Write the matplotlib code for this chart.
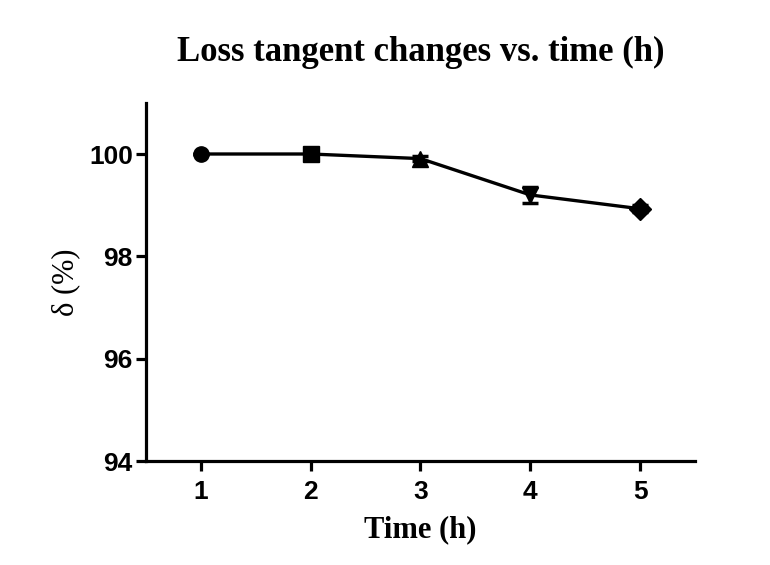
import matplotlib
matplotlib.use("Agg")
import matplotlib.pyplot as plt

time_h = [1, 2, 3, 4, 5]
delta_pct = [100.0, 100.0, 99.91, 99.20, 98.93]
delta_err = [0.0, 0.0, 0.05, 0.15, 0.07]
markers = ["o", "s", "^", "v", "D"]
yticks = [94, 96, 98, 100]
xticks = [1, 2, 3, 4, 5]

fig = plt.figure(figsize=(7.7, 5.65), dpi=100)
ax = fig.add_axes([0.1896, 0.184, 0.713, 0.634])

ax.plot(time_h, delta_pct, color="black", lw=2.4, zorder=2)
for x, y, e, m in zip(time_h, delta_pct, delta_err, markers):
    ax.errorbar([x], [y], yerr=[e], fmt=m, color="black", ms=11,
                capsize=6, capthick=2.5, elinewidth=2.5, zorder=3)

ax.set_xlim(0.5, 5.5)
ax.set_ylim(94, 101)
ax.set_xticks(xticks)
ax.set_yticks(yticks)
for s in ["top", "right"]:
    ax.spines[s].set_visible(False)
for s in ["left", "bottom"]:
    ax.spines[s].set_linewidth(2.3)
ax.tick_params(direction="out", length=7.5, width=2.3)
ax.tick_params(axis="x", pad=6)
ax.tick_params(axis="y", pad=2)
for lab in ax.get_xticklabels() + ax.get_yticklabels():
    lab.set_fontfamily("Liberation Sans")
    lab.set_fontweight("bold")
    lab.set_fontsize(19)

ax.set_title("Loss tangent changes vs. time (h)", fontfamily="Liberation Serif",
             fontweight="bold", fontsize=25, pad=30)
ax.set_xlabel("Time (h)", fontfamily="Liberation Serif", fontweight="bold",
              fontsize=22, labelpad=8)
ax.set_ylabel("δ (%)", fontfamily="Liberation Serif", fontweight="normal",
              fontsize=22, labelpad=6)

fig.savefig("out.png", dpi=100, facecolor="white")
